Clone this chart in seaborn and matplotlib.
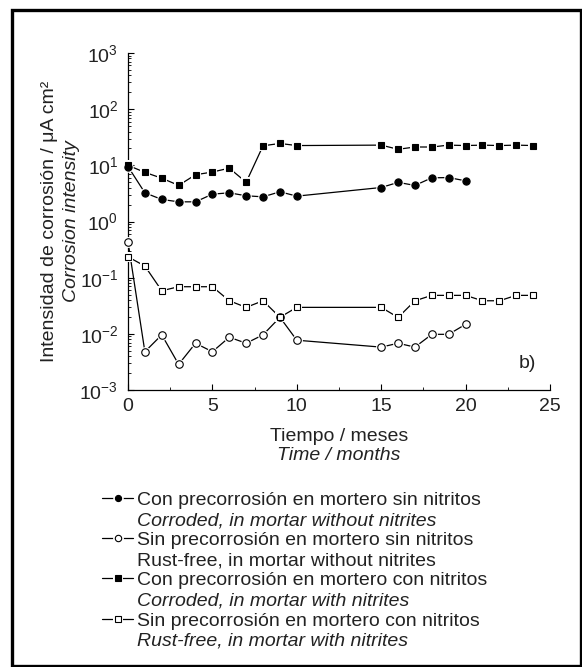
import matplotlib
matplotlib.use("Agg")
import matplotlib.pyplot as plt
import seaborn as sns
from matplotlib.lines import Line2D
from matplotlib.patches import Rectangle
from matplotlib.ticker import FixedLocator, LogLocator, NullFormatter

# time in months
months_a = [0, 1, 2, 3, 4, 5, 6, 7, 8, 9, 10, 15, 16, 17, 18, 19, 20]
months_b = [0, 1, 2, 3, 4, 5, 6, 7, 8, 9, 10, 15, 16, 17, 18, 19, 20, 21, 22, 23, 24]

# corrosion intensity, uA/cm2
corroded_no_nitrite = [9.5, 3.24, 2.47, 2.24, 2.24, 3.07, 3.24, 2.87, 2.75, 3.38, 2.83,
                       4.03, 4.97, 4.39, 6.0, 6.05, 5.3]
rustfree_no_nitrite = [0.435, 0.0048, 0.0096, 0.00286, 0.0068, 0.0048, 0.0087, 0.0068,
                       0.0096, 0.0197, 0.0077, 0.0058, 0.0068, 0.0058, 0.0098, 0.0098, 0.0148]
corroded_nitrite = [10.0, 7.5, 5.9, 4.4, 6.8, 7.6, 8.9, 5.0, 22.3, 24.5, 22.5,
                    22.9, 19.3, 21.2, 21.2, 22.9, 22.5, 22.9, 22.5, 22.9, 22.5]
rustfree_nitrite = [0.235, 0.161, 0.0585, 0.069, 0.069, 0.069, 0.0388, 0.0296, 0.0388,
                    0.0197, 0.0296, 0.0296, 0.0196, 0.0388, 0.0484, 0.0484, 0.0484,
                    0.0388, 0.0388, 0.0484, 0.0484]

legend_es = ["Con precorrosión en mortero sin nitritos",
             "Sin precorrosión en mortero sin nitritos",
             "Con precorrosión en mortero con nitritos",
             "Sin precorrosión en mortero con nitritos"]
legend_en = ["Corroded, in mortar without nitrites",
             "Rust-free, in mortar without nitrites",
             "Corroded, in mortar with nitrites",
             "Rust-free, in mortar with nitrites"]
legend_en_italic = [True, False, True, True]

sns.set_style("ticks")
plt.rcParams["font.family"] = ["Liberation Sans", "DejaVu Sans"]
plt.rcParams["mathtext.fontset"] = "custom"
plt.rcParams["mathtext.rm"] = "Liberation Sans"
plt.rcParams["mathtext.it"] = "Liberation Sans:italic"

W, H = 582, 667
fig = plt.figure(figsize=(W / 100, H / 100), dpi=100)


def fx(px):
    return px / W


def fy(py):
    return 1 - py / H


ax = fig.add_axes([fx(128), fy(390), fx(550) - fx(128), fy(53) - fy(390)])

series = [
    (months_a, corroded_no_nitrite, "o", 5.2, "black"),
    (months_a, rustfree_no_nitrite, "o", 5.4, "white"),
    (months_b, corroded_nitrite, "s", 4.3, "black"),
    (months_b, rustfree_nitrite, "s", 4.3, "white"),
]

for x, y, m, ms, fc in series:
    sns.lineplot(x=x, y=y, ax=ax, color="black", lw=0.9, estimator=None, sort=False)
# white halo gives the small gap between line and marker
for x, y, m, ms, fc in series:
    ax.plot(x, y, ls="none", marker=m, ms=ms + 2.4, mfc="white", mec="white",
            mew=0, clip_on=False, zorder=3)
for x, y, m, ms, fc in series:
    ax.plot(x, y, ls="none", marker=m, ms=ms, mfc=fc, mec="black", mew=0.8,
            clip_on=False, zorder=4)

ax.set_yscale("log")
ax.set_ylim(1e-3, 1e3)
ax.set_xlim(0, 25)
ax.xaxis.set_major_locator(FixedLocator([0, 5, 10, 15, 20, 25]))
ax.xaxis.set_minor_locator(FixedLocator([2.5, 7.5, 12.5, 17.5, 22.5]))
ax.yaxis.set_major_locator(LogLocator(base=10, numticks=10))
ax.yaxis.set_minor_locator(LogLocator(base=10, subs=range(2, 10), numticks=20))
ax.yaxis.set_minor_formatter(NullFormatter())
ax.set_yticks([10.0 ** e for e in range(-3, 4)])
ax.set_yticklabels([r"$\mathregular{10^{%d}}$" % e for e in range(-3, 4)])

for s in ["top", "right"]:
    ax.spines[s].set_visible(False)
for s in ["left", "bottom"]:
    ax.spines[s].set_linewidth(0.9)
    ax.spines[s].set_color("black")
ax.tick_params(which="major", direction="in", length=4, width=0.8, labelsize=14,
               color="black", labelcolor="#222222")
ax.tick_params(which="minor", direction="in", length=2.2, width=0.6, color="black")
ax.tick_params(axis="x", pad=6)
ax.tick_params(axis="y", pad=7)
ax.set_xlabel("")
ax.set_ylabel("")

txt = dict(fontsize=14, color="#222222")
ax.text(0.925, 0.08, "b)", transform=ax.transAxes, ha="left", va="center", **txt)

# axis titles
fig.text(fx(339), fy(441), "Tiempo / meses", ha="center", va="baseline", **txt)
fig.text(fx(339), fy(460), "Time / months", ha="center", va="baseline", style="italic", **txt)
fig.text(fx(50), fy(221), "Intensidad de corrosión / μA cm²", rotation=90,
         ha="center", va="center", **txt)
fig.text(fx(72), fy(221), "Corrosion intensity", rotation=90,
         ha="center", va="center", style="italic", **txt)

# legend, drawn by hand: marker on the first of two lines
row_y = [498, 538, 578, 619]
for i, (x, y, m, ms, fc) in enumerate(series):
    yy = row_y[i]
    fig.add_artist(Line2D([fx(102), fx(133)], [fy(yy), fy(yy)], color="black", lw=0.9))
    fig.add_artist(Line2D([fx(117.5)], [fy(yy)], marker=m, ms=ms + 2.4, mfc="white",
                          mec="white", mew=0, ls="none"))
    fig.add_artist(Line2D([fx(117.5)], [fy(yy)], marker=m, ms=ms * 0.85, mfc=fc,
                          mec="black", mew=0.8, ls="none"))
    fig.text(fx(137), fy(yy + 7), legend_es[i], ha="left", va="baseline", **txt)
    fig.text(fx(137), fy(yy + 27), legend_en[i], ha="left", va="baseline",
             style="italic" if legend_en_italic[i] else "normal", **txt)

# outer frame
fig.add_artist(Rectangle((fx(12), fy(666)), fx(581) - fx(12), fy(10) - fy(666),
                         transform=fig.transFigure, fill=False, ec="black", lw=2.4))

fig.savefig("out.png", dpi=100)
